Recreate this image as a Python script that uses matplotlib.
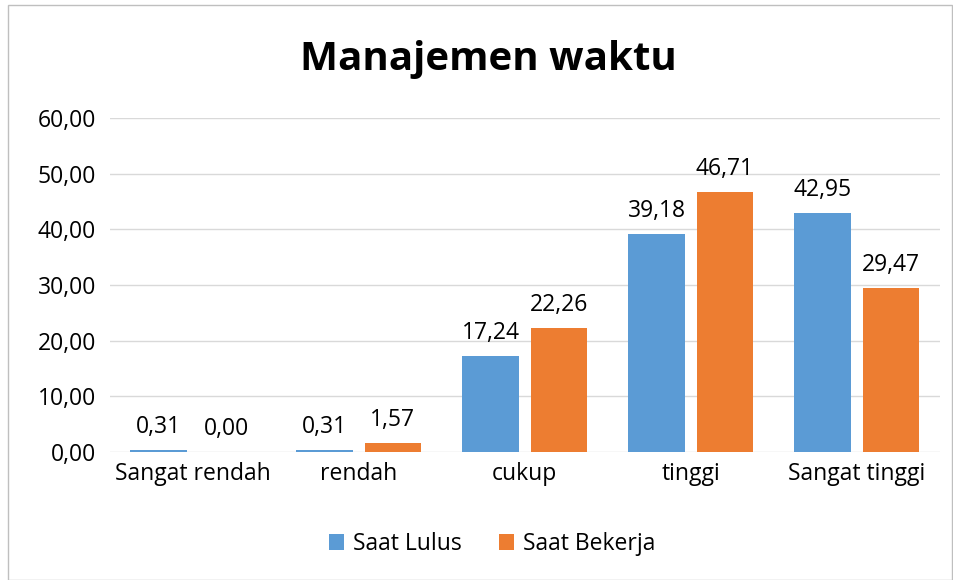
import numpy as np
import matplotlib
matplotlib.use("Agg")
import matplotlib.pyplot as plt
from matplotlib.patches import Rectangle

kategori = ["Sangat rendah", "rendah", "cukup", "tinggi", "Sangat tinggi"]
saat_lulus = [0.31, 0.31, 17.24, 39.18, 42.95]
saat_bekerja = [0.00, 1.57, 22.26, 46.71, 29.47]

BIRU = "#5b9bd5"
ORANYE = "#ed7d31"

plt.rcParams["font.family"] = ["Open Sans", "DejaVu Sans"]

fig = plt.figure(figsize=(9.54, 5.80), dpi=100)
ax = fig.add_axes([0.115, 0.2207, 0.87, 0.5759])

x = np.arange(len(kategori))
lebar = 0.34
off = 0.205
b1 = ax.bar(x - off, saat_lulus, lebar, color=BIRU, label="Saat Lulus", zorder=3)
b2 = ax.bar(x + off, saat_bekerja, lebar, color=ORANYE, label="Saat Bekerja", zorder=3)

def fmt(v):
    return f"{v:.2f}".replace(".", ",")

for bars, vals in ((b1, saat_lulus), (b2, saat_bekerja)):
    for b, v in zip(bars, vals):
        ax.text(b.get_x() + b.get_width() / 2, v + 2.0, fmt(v),
                ha="center", va="bottom", fontsize=16.5, color="#000000")

ax.set_xlim(-0.5, len(kategori) - 0.5)
ax.set_ylim(0, 60)
ax.set_yticks(np.arange(0, 61, 10))
ax.set_yticklabels([fmt(v) for v in np.arange(0, 61, 10)], fontsize=16.5)
ax.set_xticks(x)
ax.set_xticklabels(kategori, fontsize=16.5)
ax.tick_params(length=0, pad=7)
ax.tick_params(axis="y", pad=10)
ax.grid(axis="y", color="#d9d9d9", linewidth=1, zorder=0)
for s in ax.spines.values():
    s.set_visible(False)

fig.text(0.512, 0.897, "Manajemen waktu", ha="center", va="center",
         fontsize=29, fontweight="bold")

fig.legend(loc="center", bbox_to_anchor=(0.516, 0.062), ncol=2, frameon=False,
           fontsize=16.5, handlelength=0.65, handleheight=0.65, columnspacing=1.6,
           handletextpad=0.4)

fig.patches.append(Rectangle((0.008, 0.0), 0.99, 0.992, transform=fig.transFigure,
                             fill=False, edgecolor="#bfbfbf", linewidth=1))

fig.savefig("out.png", dpi=100)
